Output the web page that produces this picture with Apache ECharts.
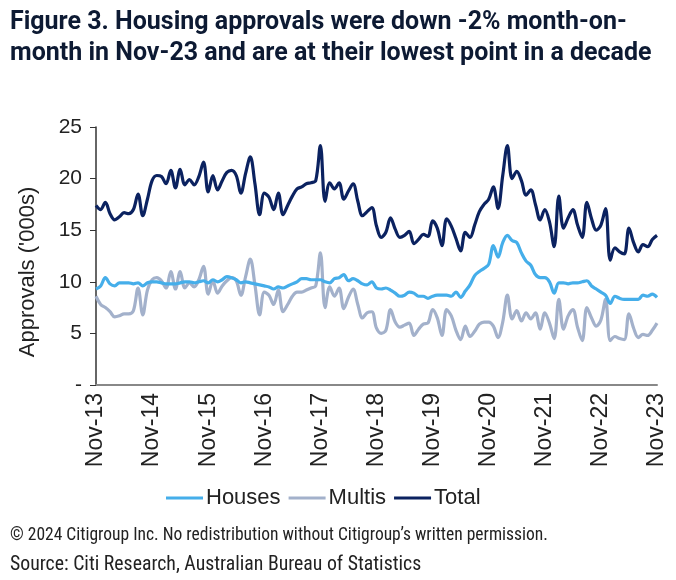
<!DOCTYPE html>
<html>
<head>
<meta charset="utf-8">
<script src="https://cdn.jsdelivr.net/npm/echarts@6/dist/echarts.min.js"></script>
<style>
html,body{margin:0;padding:0;background:#fff;}
#chart{width:676px;height:580px;}
</style>
</head>
<body>
<div id="chart"></div>
<script>
// Month categories Nov-13 .. Nov-23
const monthNames = ['Jan','Feb','Mar','Apr','May','Jun','Jul','Aug','Sep','Oct','Nov','Dec'];
const categories = [];
for (let k = 0; k <= 120; k++) {
  const m = (10 + k) % 12;
  const y = 13 + Math.floor((10 + k) / 12);
  categories.push(monthNames[m] + '-' + String(y).padStart(2, '0'));
}

const houses = [
  9.3, 9.6, 10.4, 9.8, 9.6, 9.9, 9.9, 9.9, 9.8, 9.9,
  9.6, 9.9, 10.0, 10.0, 9.9, 9.8, 9.8, 9.8, 9.9, 10.0,
  10.0, 9.9, 10.0, 10.1, 9.9, 10.2, 10.0, 10.2, 10.5, 10.4,
  10.2, 9.9, 10.0, 9.9, 9.8, 9.7, 9.6, 9.5, 9.3, 9.5,
  9.4, 9.6, 9.8, 10.0, 10.3, 10.3, 10.2, 10.2, 10.2, 10.0,
  9.9, 10.3, 10.4, 10.7, 10.1, 10.3, 10.1, 9.8, 9.7, 10.0,
  9.4, 9.3, 9.4, 9.2, 8.9, 8.6, 8.7, 9.0, 8.9, 8.6,
  8.6, 8.4, 8.6, 8.7, 8.7, 8.7, 8.6, 9.0, 8.5, 9.1,
  9.7, 10.6, 11.0, 11.3, 11.7, 13.5, 12.4, 13.8, 14.5, 14.0,
  13.8, 12.8, 12.0, 11.6, 10.7, 10.4, 10.4, 10.0, 8.9, 9.9,
  9.9, 9.8, 9.9, 9.9, 10.0, 10.1, 9.6, 9.3, 9.0, 8.7,
  7.9, 8.6, 8.4, 8.3, 8.3, 8.3, 8.3, 8.7, 8.6, 8.8, 8.5
];

const multis = [
  8.6, 7.8, 7.5, 7.1, 6.6, 6.7, 6.9, 6.9, 7.2, 9.4,
  6.8, 9.2, 10.2, 10.4, 10.1, 9.4, 11.0, 9.3, 11.0, 9.4,
  9.9, 9.5, 10.2, 11.5, 8.8, 10.1, 8.9, 9.6, 10.1, 10.4,
  10.1, 8.7, 10.5, 12.2, 9.7, 6.8, 9.0, 8.7, 7.8, 9.2,
  7.1, 7.8, 8.6, 9.0, 9.0, 9.2, 9.4, 9.6, 12.8, 7.5,
  9.5, 8.6, 9.4, 7.4, 8.5, 9.3, 7.8, 6.5, 7.0, 7.1,
  5.5, 5.0, 5.3, 7.3, 6.1, 5.6, 5.8, 6.0, 4.8, 5.4,
  5.9, 6.0, 7.3, 6.5, 4.8, 7.3, 6.7, 5.3, 4.4, 5.7,
  4.7, 5.2, 5.9, 6.1, 6.1, 5.7, 4.6, 6.1, 8.7, 6.4,
  7.2, 6.2, 7.0, 6.4, 7.0, 5.4, 7.0, 6.0, 4.5, 8.3,
  5.4, 6.7, 7.3, 5.6, 4.3, 7.5, 6.5, 5.7, 6.3, 8.3,
  4.3, 4.7, 4.5, 4.4, 6.9, 5.5, 4.6, 4.9, 4.8, 5.3, 6.0
];

const total = [
  17.4, 17.0, 17.7, 16.6, 16.0, 16.3, 16.7, 16.6, 17.0, 18.5,
  16.4, 18.0, 19.8, 20.3, 20.2, 19.5, 20.8, 19.1, 20.9, 19.4,
  19.9, 19.4, 20.2, 21.6, 18.7, 20.3, 18.9, 19.8, 20.6, 20.8,
  20.3, 18.6, 20.5, 22.1, 19.5, 16.5, 18.6, 18.2, 17.0, 18.6,
  16.5, 17.4, 18.3, 19.0, 19.2, 19.5, 19.6, 19.8, 23.2, 17.8,
  19.6, 19.0, 19.6, 18.0, 18.8, 19.5, 17.8, 16.4, 16.8, 17.2,
  15.4, 14.3, 14.8, 16.2, 15.1, 14.3, 14.5, 14.9, 13.7, 14.1,
  14.6, 14.4, 15.9, 15.2, 13.5, 16.1, 15.4, 14.2, 13.0, 14.8,
  14.3, 15.5, 16.8, 17.5, 18.0, 19.2, 17.1, 20.3, 23.2, 20.0,
  20.7, 19.8, 18.4, 18.9, 17.5, 16.0, 17.0, 15.8, 13.4, 18.3,
  15.2, 16.2, 17.0, 15.5, 14.3, 17.7, 16.1, 15.0, 15.5, 17.1,
  12.1, 13.3, 12.9, 12.7, 15.2, 13.8, 12.9, 13.6, 13.4, 14.1, 14.5
];

const seriesNames = ['Houses', 'Multis', 'Total'];
const titleLines = [
  'Figure 3. Housing approvals were down -2% month-on-',
  'month in Nov-23 and are at their lowest point in a decade'
];
const yAxisTitle = "Approvals ('000s)";
const footerLines = [
  '\u00A9 2024 Citigroup Inc. No redistribution without Citigroup\u2019s written permission.',
  'Source: Citi Research, Australian Bureau of Statistics'
];

const colors = { Houses: '#45AEEA', Multis: '#A3B1CB', Total: '#0B2260' };
const labelFont = "'Liberation Sans', Arial, sans-serif";
const footFont = "'Liberation Sans Narrow', 'Roboto Condensed', Roboto, sans-serif";

const chart = echarts.init(document.getElementById('chart'), null, { renderer: 'canvas' });

const seriesData = { Houses: houses, Multis: multis, Total: total };

chart.setOption({
  backgroundColor: '#fff',
  animation: false,
  graphic: [
    { type: 'text', left: 10, top: 7, style: { text: titleLines.join('\n'), font: "bold 25px Roboto, sans-serif", fill: '#0d1a33', lineHeight: 31 } },
    { type: 'text', x: 28, y: 272, rotation: Math.PI / 2, style: { text: yAxisTitle, font: "22px " + labelFont, fill: '#222', textAlign: 'center', textVerticalAlign: 'middle' } },
    { type: 'text', left: 10, top: 527, style: { text: footerLines[0], font: "17.5px " + footFont, fill: '#222' } },
    { type: 'text', left: 10, top: 555, style: { text: footerLines[1], font: "19.8px " + footFont, fill: '#222' } }
  ],
  grid: { left: 96, right: 19, top: 127, height: 258, containLabel: false },
  legend: {
    data: seriesNames,
    bottom: 66,
    left: 161,
    icon: 'rect',
    itemWidth: 37,
    itemHeight: 3,
    itemGap: 8,
    textStyle: { fontSize: 22, fontFamily: labelFont, color: '#222', padding: [0, 0, 0, -2] }
  },
  xAxis: {
    type: 'category',
    data: categories,
    boundaryGap: false,
    axisLine: { lineStyle: { color: '#888', width: 2 } },
    axisTick: { show: false },
    axisLabel: {
      interval: 11,
      rotate: 90,
      fontSize: 23,
      fontFamily: labelFont,
      color: '#222',
      margin: 8
    },
    splitLine: { show: false }
  },
  yAxis: {
    type: 'value',
    min: 0,
    max: 25,
    interval: 5,
    axisLine: { show: true, lineStyle: { color: '#333', width: 1.5 } },
    axisTick: { show: true, inside: false, length: 6, lineStyle: { color: '#333' } },
    axisLabel: {
      fontSize: 21,
      fontFamily: labelFont,
      color: '#222',
      margin: 14,
      formatter: v => (v === 0 ? '-' : String(v))
    },
    splitLine: { show: false }
  },
  series: seriesNames.map(n => ({
    name: n,
    type: 'line',
    data: seriesData[n],
    smooth: 0.35,
    showSymbol: false,
    symbol: 'none',
    lineStyle: { color: colors[n], width: 3.2 },
    itemStyle: { color: colors[n] },
    z: n === 'Total' ? 3 : (n === 'Houses' ? 2 : 1)
  }))
});
</script>
</body>
</html>
